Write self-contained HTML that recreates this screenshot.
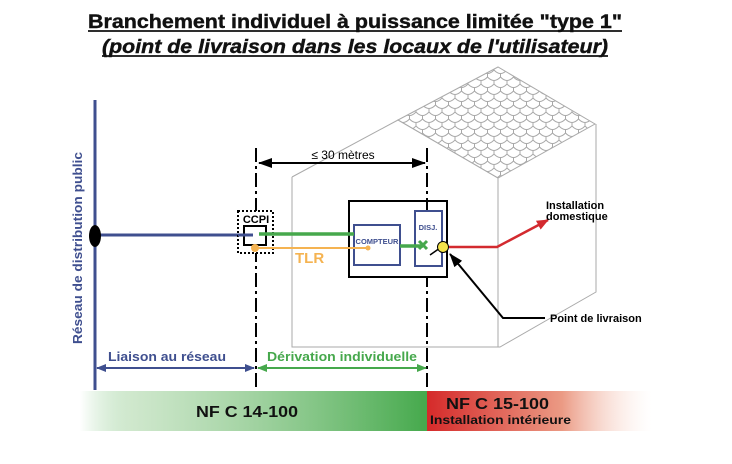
<!DOCTYPE html>
<html><head><meta charset="utf-8"><style>
html,body{margin:0;padding:0;background:#fff;width:732px;height:464px;overflow:hidden}
svg{display:block}
text{font-family:"Liberation Sans",sans-serif;font-weight:bold}
</style></head><body>
<svg width="732" height="464" viewBox="0 0 732 464" xmlns="http://www.w3.org/2000/svg">
<defs>
<pattern id="tile" width="13" height="14" patternUnits="userSpaceOnUse">
<path d="M0,0 Q6.5,7 13,0 M6.5,3.5 V7 M-6.5,7 Q0,14 6.5,7 Q13,14 19.5,7 M0,10.5 V14 M13,10.5 V14" fill="none" stroke="#a8a8a8" stroke-width="1"/>
</pattern>
<linearGradient id="gg" x1="0" x2="1"><stop offset="0" stop-color="#4caf50" stop-opacity="0"/><stop offset="0.15" stop-color="#9fd09a" stop-opacity="0.5"/><stop offset="1" stop-color="#45a94c"/></linearGradient>
<linearGradient id="rg" x1="0" x2="1"><stop offset="0" stop-color="#d52a2a"/><stop offset="0.6" stop-color="#eb9a84"/><stop offset="1" stop-color="#fbe6dd" stop-opacity="0"/></linearGradient>
<marker id="ar" markerWidth="12" markerHeight="10" refX="11" refY="5" orient="auto" markerUnits="userSpaceOnUse"><path d="M0,0 L12,5 L0,10 z" fill="#d32a2f"/></marker>
<marker id="abl" markerWidth="10" markerHeight="8" refX="9" refY="4" orient="auto-start-reverse" markerUnits="userSpaceOnUse"><path d="M0,0 L10,4 L0,8 z" fill="#3f4f8f"/></marker>
<marker id="agr" markerWidth="10" markerHeight="8" refX="9" refY="4" orient="auto-start-reverse" markerUnits="userSpaceOnUse"><path d="M0,0 L10,4 L0,8 z" fill="#46a84c"/></marker>
<marker id="ak" markerWidth="14" markerHeight="10" refX="13" refY="5" orient="auto-start-reverse" markerUnits="userSpaceOnUse"><path d="M0,0 L14,5 L0,10 z" fill="#000"/></marker>
</defs>

<text x="355" y="28" font-size="19" text-anchor="middle" textLength="534" lengthAdjust="spacingAndGlyphs" fill="#111" stroke="#111" stroke-width="0.4">Branchement individuel à puissance limitée "type 1"</text>
<line x1="88" y1="31" x2="622" y2="31" stroke="#111" stroke-width="1.8"/>
<text x="355" y="53" font-size="19" font-style="italic" text-anchor="middle" textLength="506" lengthAdjust="spacingAndGlyphs" fill="#111" stroke="#111" stroke-width="0.4">(point de livraison dans les locaux de l'utilisateur)</text>
<line x1="102" y1="56" x2="608" y2="56" stroke="#111" stroke-width="1.8"/>

<polygon points="398,120 498,67 595,124 498,178" fill="url(#tile)" stroke="#aaa" stroke-width="1"/>
<polyline points="292,177 398,120 498,178 498,340" fill="none" stroke="#aaa" stroke-width="1"/>
<polyline points="292,177 292,347 500,347 596,292 596,124" fill="none" stroke="#aaa" stroke-width="1"/>
<line x1="498" y1="178" x2="498" y2="347" stroke="#aaa" stroke-width="1"/>

<line x1="95" y1="100" x2="95" y2="390" stroke="#3f4f8f" stroke-width="3"/>
<text transform="translate(82,248) rotate(-90)" font-size="13" fill="#3f4f8f" text-anchor="middle" textLength="192" lengthAdjust="spacingAndGlyphs">Réseau de distribution public</text>
<line x1="95" y1="235" x2="253" y2="235" stroke="#3f4f8f" stroke-width="3"/>
<ellipse cx="95" cy="236" rx="6" ry="11" fill="#000"/>

<line x1="256" y1="148" x2="256" y2="390" stroke="#000" stroke-width="2" stroke-dasharray="14,4,3,4"/>
<line x1="427" y1="148" x2="427" y2="390" stroke="#000" stroke-width="2" stroke-dasharray="14,4,3,4"/>

<line x1="259" y1="163" x2="425" y2="163" stroke="#000" stroke-width="2" marker-start="url(#ak)" marker-end="url(#ak)"/>
<text x="343" y="159" font-size="12" style="font-weight:normal" text-anchor="middle" fill="#000">≤ 30 mètres</text>

<rect x="238" y="211" width="35" height="42" fill="#fff" stroke="#000" stroke-width="2" stroke-dasharray="2,2"/>
<rect x="244" y="226" width="22" height="19" fill="#fff" stroke="#000" stroke-width="2"/>
<text x="256" y="223" font-size="11" text-anchor="middle" fill="#000">CCPI</text>
<line x1="238" y1="235" x2="253" y2="235" stroke="#3f4f8f" stroke-width="3"/>

<rect x="349" y="201" width="98" height="76" fill="#fff" stroke="#000" stroke-width="2"/>
<line x1="427" y1="201" x2="427" y2="211" stroke="#000" stroke-width="2"/>
<rect x="354" y="225" width="46" height="40" fill="#fff" stroke="#3f4f8f" stroke-width="2"/>
<text x="377" y="244" font-size="7.5" text-anchor="middle" fill="#3f4f8f">COMPTEUR</text>
<rect x="415" y="211" width="27" height="55" fill="#fff" stroke="#3f4f8f" stroke-width="2"/>
<text x="428" y="230" font-size="7.5" text-anchor="middle" fill="#3f4f8f">DISJ.</text>

<line x1="259" y1="234" x2="354" y2="234" stroke="#46a84c" stroke-width="3.5"/>
<line x1="400" y1="246" x2="423" y2="246" stroke="#46a84c" stroke-width="3.5"/>
<path d="M419,241 l8,8 M427,241 l-8,8" stroke="#46a84c" stroke-width="3"/>
<line x1="255" y1="248" x2="368" y2="248" stroke="#f5b351" stroke-width="2"/>
<circle cx="255" cy="248" r="4" fill="#f5b351"/>
<circle cx="368" cy="248" r="2.5" fill="#f5b351"/>
<text x="295" y="263" font-size="15" fill="#f5b351">TLR</text>
<line x1="430" y1="255" x2="440" y2="248" stroke="#000" stroke-width="1.5"/>
<circle cx="443" cy="247" r="5.5" fill="#f4e34b" stroke="#000" stroke-width="1"/>

<polyline points="449,247 497,247 548,220" fill="none" stroke="#d32a2f" stroke-width="2.5" marker-end="url(#ar)"/>
<text x="546" y="209" font-size="11" fill="#000">Installation</text>
<text x="546" y="220" font-size="11" fill="#000">domestique</text>

<polyline points="545,318 503,318 450,254" fill="none" stroke="#000" stroke-width="2" marker-end="url(#ak)"/>
<text x="550" y="322" font-size="11" fill="#000">Point de livraison</text>

<text x="167" y="361" font-size="12.5" fill="#3f4f8f" text-anchor="middle" textLength="118" lengthAdjust="spacingAndGlyphs">Liaison au réseau</text>
<line x1="97" y1="368" x2="254" y2="368" stroke="#3f4f8f" stroke-width="2" marker-start="url(#abl)" marker-end="url(#abl)"/>
<text x="342" y="361" font-size="12.5" fill="#46a84c" text-anchor="middle" textLength="150" lengthAdjust="spacingAndGlyphs">Dérivation individuelle</text>
<line x1="258" y1="368" x2="426" y2="368" stroke="#46a84c" stroke-width="2" marker-start="url(#agr)" marker-end="url(#agr)"/>

<rect x="80" y="391" width="347" height="40" fill="url(#gg)"/>
<rect x="427" y="391" width="225" height="40" fill="url(#rg)"/>
<text x="247" y="417" font-size="16" text-anchor="middle" textLength="102" lengthAdjust="spacingAndGlyphs" fill="#111">NF C 14-100</text>
<text x="446" y="409" font-size="16" textLength="103" lengthAdjust="spacingAndGlyphs" fill="#111">NF C 15-100</text>
<text x="430" y="424" font-size="11.5" textLength="141" lengthAdjust="spacingAndGlyphs" fill="#111">Installation intérieure</text>
</svg>
</body></html>
